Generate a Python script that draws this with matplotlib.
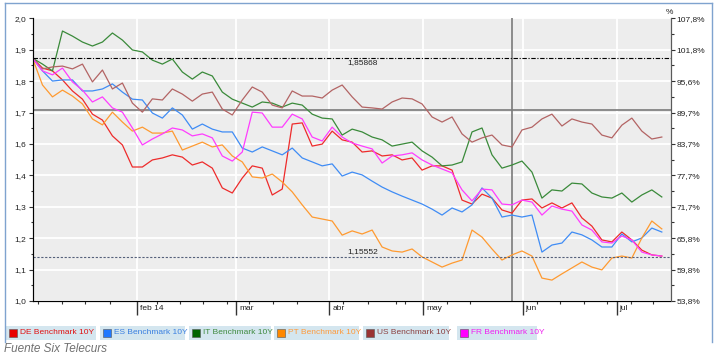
import numpy as np
import matplotlib
matplotlib.use('Agg')
import matplotlib.pyplot as plt
from matplotlib.patches import Rectangle
from matplotlib.lines import Line2D
from matplotlib.transforms import blended_transform_factory

plt.rcParams['font.family'] = ['Liberation Sans', 'DejaVu Sans']

# rebased 10Y yields, one sample every ~2 trading days
de = [1.859, 1.824, 1.814, 1.782, 1.743, 1.714, 1.661, 1.640, 1.584, 1.552,
      1.474, 1.474, 1.499, 1.506, 1.517, 1.509, 1.481, 1.492, 1.470, 1.400,
      1.382, 1.435, 1.478, 1.470, 1.375, 1.396, 1.626, 1.630, 1.548, 1.555,
      1.601, 1.570, 1.562, 1.527, 1.531, 1.513, 1.517, 1.499, 1.506, 1.463,
      1.478, 1.478, 1.463, 1.357, 1.343, 1.378, 1.364, 1.322, 1.311, 1.357,
      1.361, 1.329, 1.347, 1.329, 1.347, 1.294, 1.265, 1.216, 1.209, 1.244,
      1.216, 1.180, 1.163, 1.159]
es = [1.859, 1.814, 1.778, 1.782, 1.782, 1.743, 1.743, 1.750, 1.768, 1.739,
      1.714, 1.711, 1.665, 1.647, 1.683, 1.658, 1.608, 1.626, 1.608, 1.598,
      1.598, 1.541, 1.527, 1.545, 1.531, 1.517, 1.541, 1.506, 1.492, 1.478,
      1.485, 1.442, 1.456, 1.446, 1.424, 1.403, 1.386, 1.371, 1.357, 1.343,
      1.325, 1.304, 1.329, 1.315, 1.340, 1.400, 1.364, 1.297, 1.304, 1.297,
      1.304, 1.173, 1.198, 1.205, 1.244, 1.234, 1.216, 1.191, 1.191, 1.237,
      1.209, 1.223, 1.258, 1.244]
it = [1.859, 1.838, 1.814, 1.955, 1.937, 1.916, 1.902, 1.916, 1.948, 1.923,
      1.888, 1.881, 1.852, 1.838, 1.856, 1.810, 1.785, 1.810, 1.796, 1.739,
      1.714, 1.700, 1.686, 1.704, 1.700, 1.686, 1.700, 1.693, 1.661, 1.647,
      1.644, 1.587, 1.608, 1.598, 1.580, 1.570, 1.548, 1.555, 1.562, 1.531,
      1.509, 1.478, 1.481, 1.492, 1.598, 1.612, 1.517, 1.470, 1.481, 1.495,
      1.456, 1.364, 1.393, 1.389, 1.417, 1.414, 1.382, 1.368, 1.364, 1.382,
      1.350, 1.375, 1.393, 1.368]
pt = [1.859, 1.764, 1.722, 1.746, 1.725, 1.697, 1.644, 1.623, 1.668, 1.633,
      1.601, 1.615, 1.594, 1.594, 1.601, 1.534, 1.548, 1.562, 1.545, 1.552,
      1.513, 1.492, 1.439, 1.435, 1.449, 1.421, 1.386, 1.340, 1.297, 1.290,
      1.283, 1.233, 1.248, 1.237, 1.251, 1.191, 1.177, 1.173, 1.184, 1.156,
      1.138, 1.120, 1.134, 1.145, 1.251, 1.226, 1.184, 1.145, 1.163, 1.177,
      1.159, 1.081, 1.074, 1.096, 1.117, 1.138, 1.120, 1.110, 1.152, 1.159,
      1.152, 1.223, 1.283, 1.255]
us = [1.859, 1.821, 1.828, 1.831, 1.821, 1.838, 1.775, 1.817, 1.750, 1.771,
      1.700, 1.668, 1.715, 1.711, 1.750, 1.732, 1.707, 1.732, 1.739, 1.679,
      1.658, 1.711, 1.757, 1.739, 1.693, 1.683, 1.743, 1.725, 1.725, 1.718,
      1.746, 1.764, 1.722, 1.686, 1.683, 1.679, 1.704, 1.718, 1.715, 1.697,
      1.651, 1.633, 1.651, 1.591, 1.562, 1.577, 1.587, 1.552, 1.545, 1.605,
      1.615, 1.644, 1.661, 1.619, 1.644, 1.633, 1.626, 1.587, 1.577, 1.622,
      1.647, 1.601, 1.573, 1.580]
fr = [1.859, 1.814, 1.800, 1.824, 1.775, 1.746, 1.704, 1.722, 1.683, 1.668,
      1.612, 1.552, 1.573, 1.591, 1.612, 1.605, 1.584, 1.591, 1.577, 1.513,
      1.495, 1.527, 1.668, 1.665, 1.615, 1.615, 1.661, 1.644, 1.580, 1.566,
      1.615, 1.580, 1.559, 1.548, 1.538, 1.488, 1.513, 1.517, 1.524, 1.499,
      1.481, 1.467, 1.453, 1.393, 1.354, 1.396, 1.393, 1.343, 1.340, 1.357,
      1.350, 1.304, 1.336, 1.325, 1.318, 1.269, 1.251, 1.209, 1.205, 1.230,
      1.216, 1.173, 1.163, 1.159]

names = ['DE Benchmark 10Y', 'ES Benchmark 10Y', 'IT Benchmark 10Y',
         'PT Benchmark 10Y', 'US Benchmark 10Y', 'FR Benchmark 10Y']
line_colors = ['#ee2b2b', '#3f8cf5', '#3a8a3a', '#ff9a30', '#b36464', '#ff3cff']
box_colors = ['#e80000', '#1f78ff', '#006400', '#ff8800', '#993333', '#ff00ff']
text_colors = ['#e01010', '#3a7fe0', '#3f8a3f', '#ff9a3a', '#8b4040', '#f020f0']

month_labels = ['feb 14', 'mar', 'abr', 'may', 'jun', 'jul']
month_pos = [10.47, 20.37, 29.73, 39.13, 49.07, 58.47]
week_pos = [0.6, 3.0, 5.3, 7.8, 12.5, 14.8, 17.1, 19.5, 21.7, 24.1, 26.5,
            31.1, 33.6, 36.4, 37.3, 41.5, 43.8, 50.5, 52.8, 55.2, 57.5, 59.9, 62.1]

left_labels = ['1,0', '1,1', '1,2', '1,3', '1,4', '1,6', '1,7', '1,8', '1,9', '2,0']
right_labels = ['53,8%', '59,8%', '65,8%', '71,7%', '77,7%', '83,7%', '89,7%',
                '95,6%', '101,8%', '107,8%']

ref_high = 1.85868
ref_low = 1.15552
cursor_x = 47.97
cursor_y = 1.6756

W, H = 717, 356
fig = plt.figure(figsize=(W / 100, H / 100), dpi=100)
fig.patch.set_facecolor('white')

ax = fig.add_axes([32.5 / W, 55 / H, 638 / W, 282.7 / H])
ax.set_facecolor('#ededed')
ax.set_xlim(0, 63.87)
ax.set_ylim(1.0, 2.0)

yt = 1 + np.arange(10) / 9
ymin = yt[:-1] + 1 / 18
ax.set_yticks(yt)
ax.set_yticklabels(left_labels)
ax.set_yticks(ymin, minor=True)
ax.set_xticks(month_pos)
ax.set_xticklabels([])
ax.set_xticks(week_pos, minor=True)
ax.grid(True, which='major', color='white', lw=1.3)
ax.set_axisbelow(True)

for s in ['left', 'bottom', 'right']:
    ax.spines[s].set_color('#5a5a5a')
ax.spines['top'].set_visible(False)
ax.tick_params(axis='y', which='major', length=3, width=0.8, color='#333',
               labelsize=6, labelcolor='#222', pad=1.5)
ax.tick_params(axis='y', which='minor', length=1.8, width=0.8, color='#333')
ax.tick_params(axis='x', which='major', length=10, width=1, color='#333')
ax.tick_params(axis='x', which='minor', length=2, width=0.8, color='#333')

ax2 = ax.twinx()
ax2.set_ylim(1.0, 2.0)
ax2.set_yticks(yt)
ax2.set_yticklabels(right_labels)
ax2.set_yticks(ymin, minor=True)
ax2.spines['top'].set_visible(False)
ax2.spines['right'].set_color('#5a5a5a')
ax2.tick_params(axis='y', which='major', length=3, width=0.8, color='#333',
                labelsize=6, labelcolor='#222', pad=1.5)
ax2.tick_params(axis='y', which='minor', length=1.8, width=0.8, color='#333')

trans = blended_transform_factory(ax.transData, ax.transAxes)
for p, lab in zip(month_pos, month_labels):
    ax.annotate(lab, (p, 0), xycoords=trans, xytext=(3, -8),
                textcoords='offset pixels', ha='left', va='center',
                fontsize=6, color='#222')

# cursor crosshair
ax.axhline(cursor_y, color='#7a7a7a', lw=1.2, zorder=1.5)
ax.axvline(cursor_x, color='#7a7a7a', lw=1.2, zorder=1.5)

x = np.arange(len(de))
for vals, c in zip([de, es, it, pt, us, fr], line_colors):
    ax.plot(x, vals, color=c, lw=0.9, zorder=3)

ax.axhline(ref_high, color='black', lw=0.8, ls=(0, (4, 1.5, 1, 1.5)), zorder=4)
ax.axhline(ref_low, color='#55607a', lw=0.8, ls=(0, (2, 1.5)), zorder=4)
ytrans = blended_transform_factory(ax.transAxes, ax.transData)
ax.annotate('1,85868', (0.518, ref_high), xycoords=ytrans, xytext=(0, -1),
            textcoords='offset pixels', ha='center', va='top', fontsize=6, color='#222')
ax.annotate('1,15552', (0.518, ref_low), xycoords=ytrans, xytext=(0, 2),
            textcoords='offset pixels', ha='center', va='bottom', fontsize=6, color='#222')

fig.text(669 / W, 1 - 12 / H, '%', ha='center', va='center', fontsize=6, color='#222')

# legend boxes
box_left = [6, 100, 189, 274, 363, 457]
box_width = [90, 85, 82, 85, 86, 80]
for bl, bw, name, bc, tc in zip(box_left, box_width, names, box_colors, text_colors):
    fig.add_artist(Rectangle((bl / W, 1 - 340 / H), bw / W, 14.3 / H,
                             transform=fig.transFigure, facecolor='#d4e6ef',
                             edgecolor='none'))
    fig.add_artist(Rectangle(((bl + 3) / W, 1 - 336.5 / H), 8 / W, 8 / H,
                             transform=fig.transFigure, facecolor=bc,
                             edgecolor='#555', lw=0.4))
    fig.text((bl + 14) / W, 1 - 333 / H, name, color=tc, fontsize=6,
             va='center', ha='left')

fig.text(4 / W, 1 - 349 / H, 'Fuente Six Telecurs', style='italic',
         color='#707070', fontsize=8.5, va='center', ha='left')

# outer frame
bc = '#7fa3cf'
fig.add_artist(Line2D([5 / W, 5 / W], [1 - 342 / H, 1 - 3 / H], color=bc, lw=1))
fig.add_artist(Line2D([5 / W, 712 / W], [1 - 3 / H, 1 - 3 / H], color=bc, lw=1))
fig.add_artist(Line2D([712 / W, 712 / W], [1 - 342 / H, 1 - 3 / H], color=bc, lw=1))

fig.savefig('out.png', dpi=100)
